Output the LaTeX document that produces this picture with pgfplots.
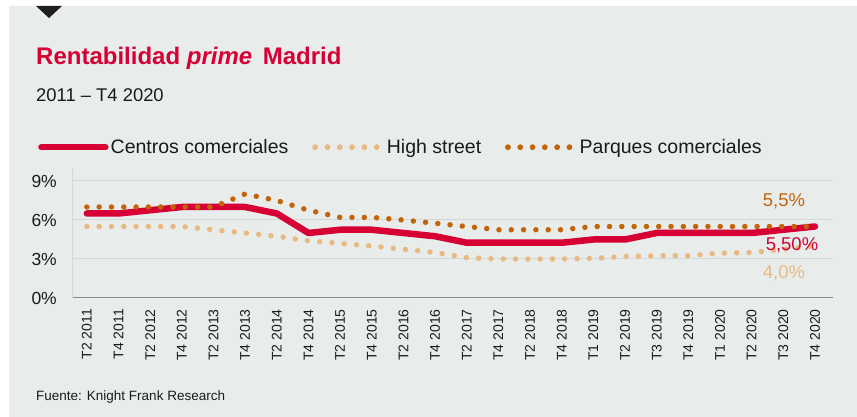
\documentclass[border=0pt]{standalone}
\usepackage{fontspec}
\setmainfont{Liberation Sans}
\usepackage{pgfplots}
\pgfplotsset{compat=1.18}
\definecolor{kfred}{RGB}{214,0,52}
\definecolor{parq}{RGB}{196,100,10}
\definecolor{hst}{RGB}{232,185,130}
\definecolor{bgc}{RGB}{232,237,235}
\definecolor{gridc}{RGB}{212,216,216}
\definecolor{txt}{RGB}{26,26,26}
\begin{document}
\begin{tikzpicture}
\fill[white] (0pt,0pt) rectangle (857pt,417pt);
\fill[bgc] (9pt,0pt) rectangle (857pt,411pt);
\fill[black!88] (36pt,411pt) -- (62pt,411pt) -- (49pt,399pt) -- cycle;
\node[anchor=base west, font=\fontsize{24}{24}\selectfont\bfseries, text=kfred, inner sep=0pt] at (36pt,352pt) {Rentabilidad \textit{prime}\, Madrid};
\node[anchor=base west, font=\fontsize{18.4}{18.4}\selectfont, text=txt, inner sep=0pt] at (36pt,315pt) {2011 – T4 2020};
\node[anchor=base west, font=\fontsize{13.5}{13.5}\selectfont, text=txt, inner sep=0pt] at (36pt,16pt) {Fuente: Knight Frank Research};
\begin{axis}[
  at={(72pt,119pt)}, anchor=south west,
  scale only axis, width=761pt, height=130pt,
  xmin=-0.47, xmax=23.57, ymin=0, ymax=10,
  axis x line*=bottom, axis y line*=left,
  x axis line style={-, draw=black!45, line width=1pt},
  y axis line style={-, draw=gridc, line width=0.6pt},
  major tick length=0pt,
  xtick={0,...,23},
  xticklabels={T2 2011,T4 2011,T2 2012,T4 2012,T2 2013,T4 2013,T2 2014,T4 2014,T2 2015,T4 2015,T2 2016,T4 2016,T2 2017,T4 2017,T2 2018,T4 2018,T1 2019,T2 2019,T3 2019,T4 2019,T1 2020,T2 2020,T3 2020,T4 2020},
  xticklabel style={rotate=90, anchor=east, inner sep=0pt, font=\fontsize{14}{14}\selectfont, text=txt},
  xticklabel shift=11pt,
  ytick={0,3,6,9},
  yticklabels={0\%,3\%,6\%,9\%},
  yticklabel style={inner sep=0pt, font=\fontsize{17.5}{17.5}\selectfont, text=txt},
  yticklabel shift=15pt,
  ymajorgrids, major grid style={draw=gridc, line width=1pt},
  legend columns=-1,
  legend cell align=left,
  legend style={at={(axis description cs:-0.0447,1.16)}, anchor=west, draw=none, fill=none, inner sep=0pt,
    font=\fontsize{19.5}{19.5}\selectfont, text=txt,
    /tikz/every even column/.append style={column sep=22pt}},
]
\addplot[kfred, line width=6.5pt, line cap=round, line join=round,
  legend image code/.code={\draw[kfred, line width=6.5pt, line cap=round] (0pt,0pt) -- (64pt,0pt);}]
  coordinates {(0,6.5)(1,6.5)(2,6.75)(3,7.0)(4,7.0)(5,7.0)(6,6.5)(7,5.0)(8,5.25)(9,5.25)(10,5.0)(11,4.75)(12,4.25)(13,4.25)(14,4.25)(15,4.25)(16,4.5)(17,4.5)(18,5.0)(19,5.0)(20,5.0)(21,5.0)(22,5.25)(23,5.5)};
\addlegendentry{Centros comerciales}
\addplot[hst, line width=5.5pt, line cap=round, dash pattern=on 0pt off 12.3pt,
  legend image code/.code={\draw[hst, line width=5.5pt, line cap=round, dash pattern=on 0pt off 12.3pt] (0pt,0pt) -- (61.6pt,0pt); \path (0pt,0pt) -- (67pt,0pt);}]
  coordinates {(0,5.5)(1,5.5)(2,5.5)(3,5.5)(4,5.25)(5,5.0)(6,4.75)(7,4.4)(8,4.2)(9,4.0)(10,3.75)(11,3.5)(12,3.1)(13,3.0)(14,3.0)(15,3.0)(16,3.05)(17,3.2)(18,3.25)(19,3.25)(20,3.45)(21,3.5)(22,3.75)(23,4.0)};
\addlegendentry{High street}
\addplot[parq, line width=5.5pt, line cap=round, dash pattern=on 0pt off 12.3pt,
  legend image code/.code={\draw[parq, line width=5.5pt, line cap=round, dash pattern=on 0pt off 12.3pt] (0pt,0pt) -- (61.6pt,0pt); \path (0pt,0pt) -- (67pt,0pt);}]
  coordinates {(0,7.0)(1,7.0)(2,7.0)(3,7.0)(4,7.0)(5,8.0)(6,7.5)(7,6.75)(8,6.2)(9,6.2)(10,6.0)(11,5.75)(12,5.5)(13,5.25)(14,5.25)(15,5.25)(16,5.5)(17,5.5)(18,5.5)(19,5.5)(20,5.5)(21,5.5)(22,5.5)(23,5.5)};
\addlegendentry{Parques comerciales}
\end{axis}
\node[font=\fontsize{18.5}{18.5}\selectfont, text=parq] at (784pt,216pt) {5,5\%};
\node[font=\fontsize{18.5}{18.5}\selectfont, text=kfred] at (792pt,172pt) {5,50\%};
\node[font=\fontsize{18.5}{18.5}\selectfont, text=hst] at (784pt,144pt) {4,0\%};
\end{tikzpicture}
\end{document}
